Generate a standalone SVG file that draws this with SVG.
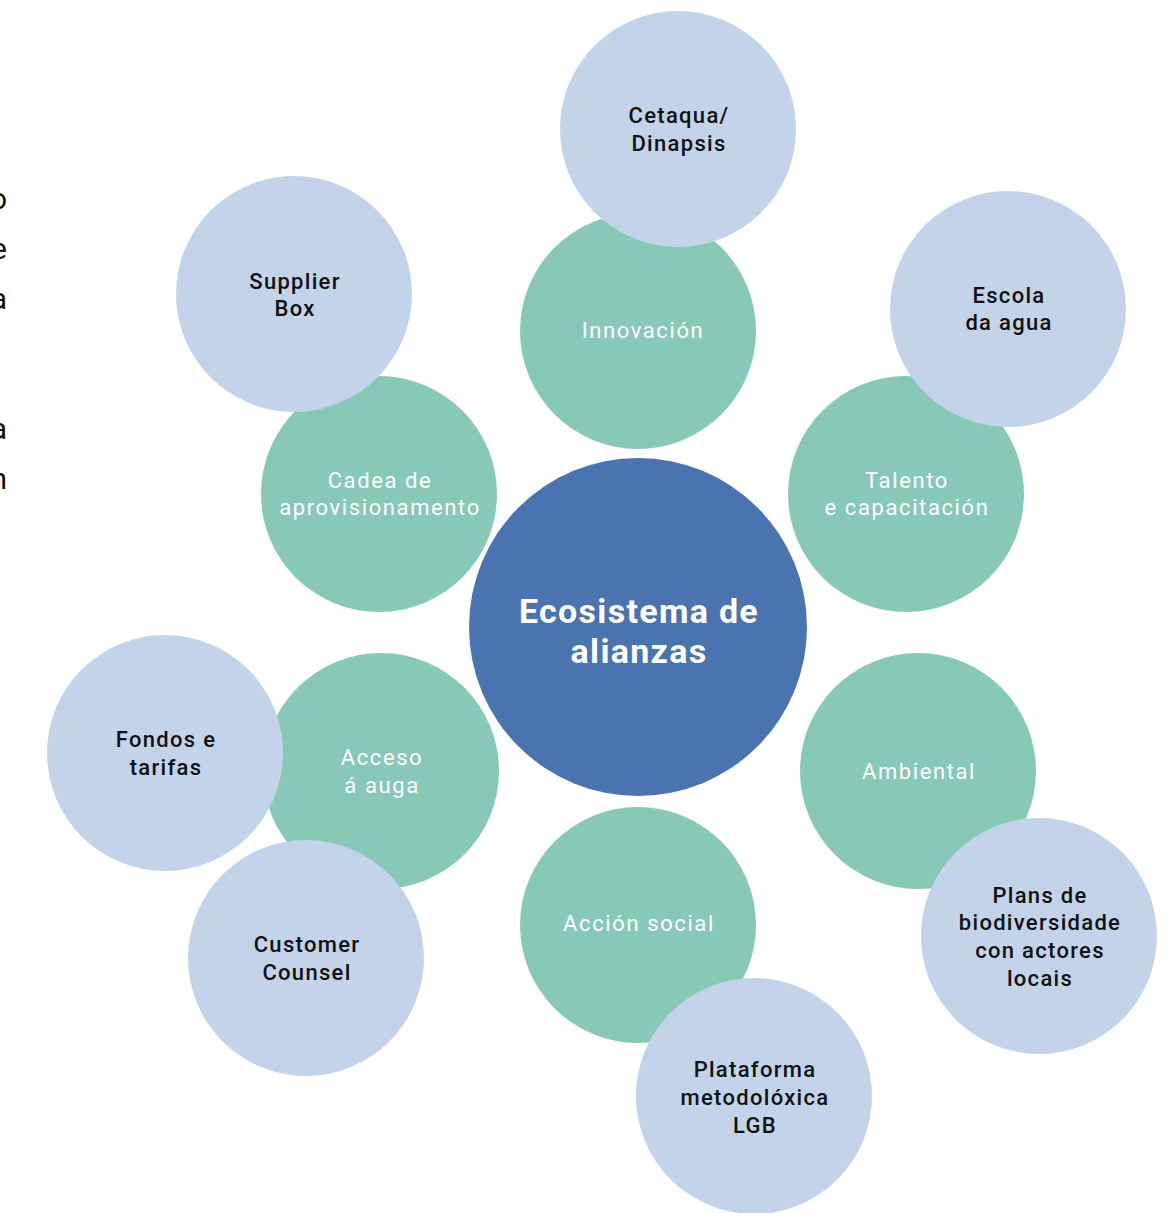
<svg xmlns="http://www.w3.org/2000/svg" width="1169" height="1213" viewBox="0 0 1169 1213">
<style>
.core{fill:#4a74b0}
.mid{fill:#88c8b6}
.out{fill:#c3d3ea}
text{font-family:Roboto,"Noto Sans","DejaVu Sans",sans-serif;text-anchor:middle;dominant-baseline:central}
.tw{fill:#ffffff;font-size:22px;letter-spacing:1.6px}
.tb{fill:#111111;font-size:22px;font-weight:500;letter-spacing:1.3px}
.tc{fill:#ffffff;font-size:34px;font-weight:bold;letter-spacing:1.3px}
.edge{fill:#111111;font-size:30px;text-anchor:end}
</style>
<rect width="1169" height="1213" fill="#ffffff"/>
<g id="edge-text">
<text class="edge" x="7" y="198">o</text>
<text class="edge" x="7" y="248">e</text>
<text class="edge" x="7" y="298">a</text>
<text class="edge" x="7" y="428">a</text>
<text class="edge" x="7" y="478">n</text>
</g>
<g id="connectors"></g>
<g id="center"><circle class="core" cx="638" cy="627" r="169"/><text class="tc" x="639" y="611">Ecosistema de</text><text class="tc" x="639" y="651">alianzas</text></g>
<g id="innovacion"><circle class="mid" cx="638" cy="331" r="118"/><text class="tw" x="643" y="330">Innovación</text></g>
<g id="cetaqua"><circle class="out" cx="678" cy="129" r="118"/><text class="tb" x="679" y="115">Cetaqua/</text><text class="tb" x="679" y="143">Dinapsis</text></g>
<g id="cadea"><circle class="mid" cx="379" cy="494" r="118"/><text class="tw" x="380" y="480">Cadea de</text><text class="tw" x="380" y="507">aprovisionamento</text></g>
<g id="supplier"><circle class="out" cx="294" cy="294" r="118"/><text class="tb" x="295" y="281">Supplier</text><text class="tb" x="295" y="308">Box</text></g>
<g id="talento"><circle class="mid" cx="906" cy="494" r="118"/><text class="tw" x="907" y="480">Talento</text><text class="tw" x="907" y="507">e capacitación</text></g>
<g id="escola"><circle class="out" cx="1008" cy="309" r="118"/><text class="tb" x="1009" y="295">Escola</text><text class="tb" x="1009" y="322">da agua</text></g>
<g id="ambiental"><circle class="mid" cx="918" cy="771" r="118"/><text class="tw" x="919" y="771">Ambiental</text></g>
<g id="plans"><circle class="out" cx="1039" cy="936" r="118"/><text class="tb" x="1040" y="895">Plans de</text><text class="tb" x="1040" y="922">biodiversidade</text><text class="tb" x="1040" y="950">con actores</text><text class="tb" x="1040" y="978">locais</text></g>
<g id="accion"><circle class="mid" cx="638" cy="925" r="118"/><text class="tw" x="639" y="923">Acción social</text></g>
<g id="plataforma"><circle class="out" cx="754" cy="1096" r="118"/><text class="tb" x="755" y="1069">Plataforma</text><text class="tb" x="755" y="1097">metodolóxica</text><text class="tb" x="755" y="1125">LGB</text></g>
<g id="acceso"><circle class="mid" cx="381" cy="771" r="118"/><text class="tw" x="382" y="757">Acceso</text><text class="tw" x="382" y="785">á auga</text></g>
<g id="fondos"><circle class="out" cx="165" cy="753" r="118"/><text class="tb" x="166" y="739">Fondos e</text><text class="tb" x="166" y="767">tarifas</text></g>
<g id="customer"><circle class="out" cx="306" cy="958" r="118"/><text class="tb" x="307" y="944">Customer</text><text class="tb" x="307" y="972">Counsel</text></g>
</svg>
